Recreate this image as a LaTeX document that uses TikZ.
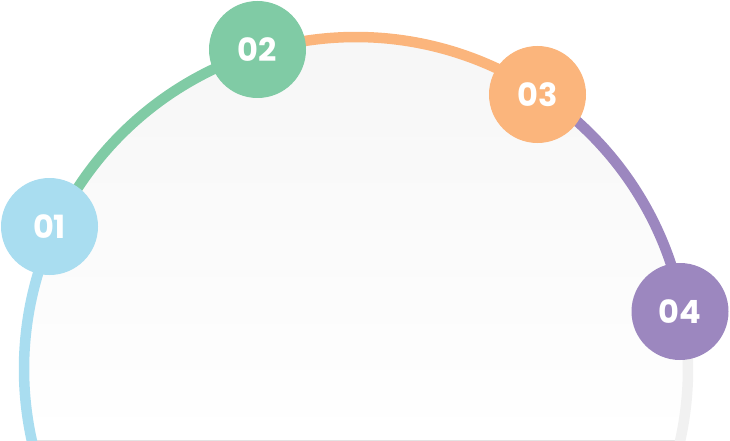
\documentclass[tikz,border=0pt]{standalone}
\usepackage{fontspec}
\setmainfont{Poppins}
\definecolor{stepblue}{HTML}{A9DDF0}
\definecolor{stepgreen}{HTML}{80CBA5}
\definecolor{steporange}{HTML}{FBB57C}
\definecolor{steppurple}{HTML}{9C87BF}
\definecolor{steprest}{HTML}{F1F1F1}
\definecolor{domefill}{HTML}{F6F6F6}
\tikzset{
  segment/.style={line width=10.5pt},
  stepdot/.style={circle, minimum size=97pt, inner sep=0pt, text=white,
    font=\fontsize{32}{32}\selectfont\bfseries}
}
\begin{document}
\begin{tikzpicture}[x=1pt,y=1pt]
  \useasboundingbox (0,0) rectangle (730,440);
  \clip (0,0) rectangle (730,440);
  \def\R{332}
  \coordinate (c) at (356,71);
  % dome background
  \fill[top color=domefill, bottom color=white]
    ([shift={(192.35:\R)}]c) arc[start angle=192.35, end angle=-12.35, radius=\R] -- cycle;
  % coloured arc segments between the steps
  \draw[segment, stepblue]   ([shift={(200:\R)}]c)   arc[start angle=200,    end angle=154.95, radius=\R];
  \draw[segment, stepgreen]  ([shift={(154.95:\R)}]c) arc[start angle=154.95, end angle=107.1,  radius=\R];
  \draw[segment, steporange] ([shift={(107.1:\R)}]c)  arc[start angle=107.1,  end angle=56.5,   radius=\R];
  \draw[segment, steppurple] ([shift={(56.5:\R)}]c)   arc[start angle=56.5,   end angle=10.06,  radius=\R];
  \draw[segment, steprest]   ([shift={(10.06:\R)}]c)  arc[start angle=10.06,  end angle=-20,    radius=\R];
  % step markers
  \node[stepdot, fill=stepblue]   (s1) at (49.5,213.5)  {01};
  \node[stepdot, fill=stepgreen]  (s2) at (257.5,390.5) {02};
  \node[stepdot, fill=steporange] (s3) at (537.5,345.5) {03};
  \node[stepdot, fill=steppurple] (s4) at (680,128.5)   {04};
\end{tikzpicture}
\end{document}
